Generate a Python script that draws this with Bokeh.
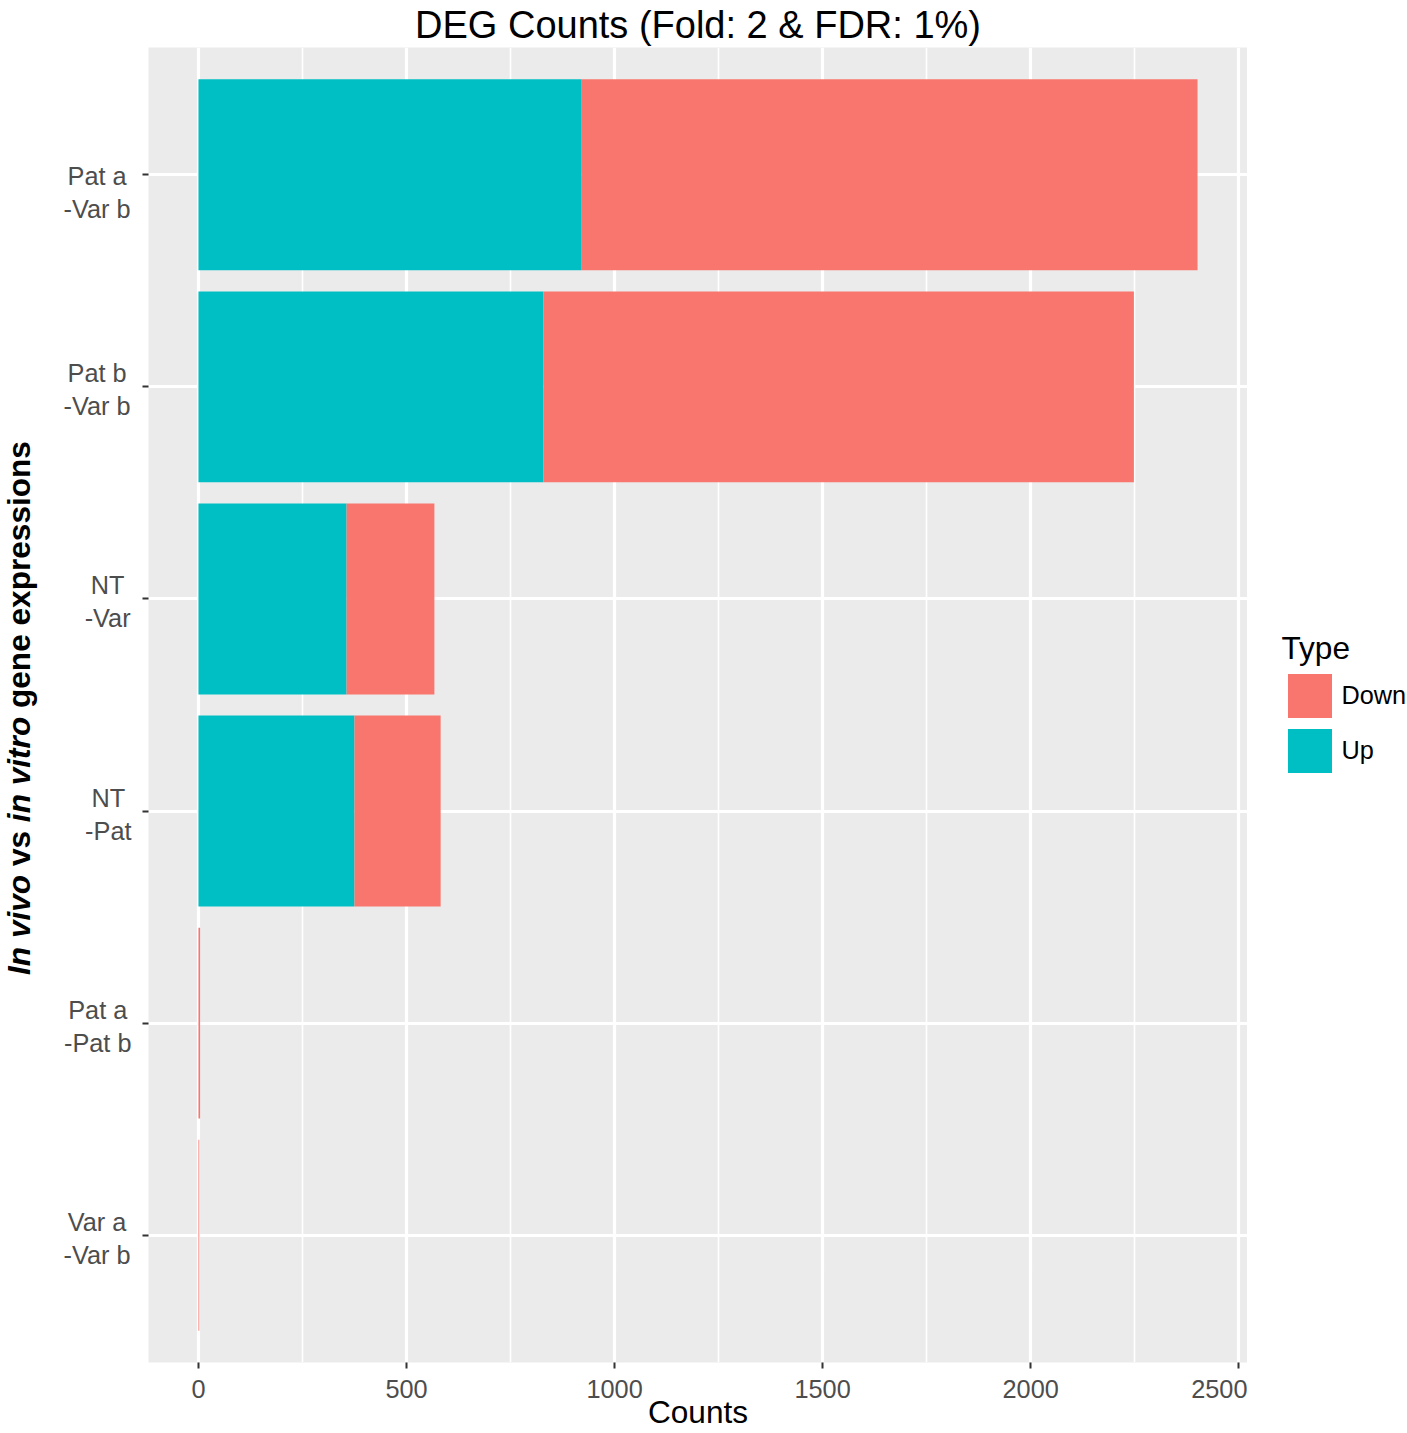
import math
from bokeh.plotting import figure
from bokeh.layouts import row
from bokeh.models import (ColumnDataSource, FactorRange, Range1d, FixedTicker,
                          Legend, LegendItem)
from bokeh.core.properties import value
from bokeh.embed import file_html
from bokeh.resources import INLINE

# ---------------- data ----------------
categories = ["Pat a -Var b", "Pat b -Var b", "NT -Var", "NT -Pat", "Pat a -Pat b", "Var a -Var b"]
label_line1 = ["Pat a", "Pat b", "NT", "NT", "Pat a", "Var a"]
label_line2 = ["-Var b", "-Var b", "-Var", "-Pat", "-Pat b", "-Var b"]
up_counts = [921, 829, 356, 375, 0, 0]
down_counts = [1480, 1419, 211, 207, 4, 2]
types = ["Down", "Up"]
x_ticks = [0, 500, 1000, 1500, 2000, 2500]
title_text = "DEG Counts (Fold: 2 & FDR: 1%)"
x_title = "Counts"
legend_title = "Type"
y_title_parts = [("In vivo", "bold italic"), ("vs", "bold"), ("in vitro", "bold italic"),
                 ("gene expressions", "bold")]

RED = "#F8766D"
CYAN = "#00BFC4"
type_colors = {"Down": RED, "Up": CYAN}
FONT = "Liberation Sans"

# ---------------- geometry ----------------
W, H = 1407, 1433
LW = 136                 # width of the left text strip
RW = 160                 # width of the legend strip
FRAME_LEFT = 148
FRAME_TOP = 47
MB = 71
FRAME_BOTTOM = H - MB
FRAME_H = FRAME_BOTTOM - FRAME_TOP
AXIS_TEXT = 25.3
AXIS_TITLE = 31.6
TITLE_SIZE = 38
Y_PAD = 0.1

REG_W = {'P': .667, 'a': .556, 't': .278, ' ': .278, '-': .333, 'V': .667, 'r': .333,
         'b': .556, 'N': .722, 'T': .611}
BOLD_W = {'I': .278, 'n': .611, ' ': .278, 'v': .556, 'i': .278, 'o': .611, 's': .556,
          't': .333, 'r': .389, 'g': .611, 'e': .556, 'x': .556, 'p': .611}


def text_w(s, table, size):
    return sum(table.get(c, .556) for c in s) * size


def strip(width):
    f = figure(width=width, height=H, x_range=Range1d(0, width),
               y_range=Range1d(FRAME_BOTTOM, FRAME_TOP),
               output_backend="svg", toolbar_location=None,
               x_axis_location=None, y_axis_location=None,
               min_border=0, min_border_left=0, min_border_right=0,
               min_border_top=FRAME_TOP, min_border_bottom=MB)
    f.grid.visible = False
    f.outline_line_color = None
    f.background_fill_color = "white"
    f.border_fill_color = "white"
    return f


# ---------------- main plot ----------------
totals = [u + d for u, d in zip(up_counts, down_counts)]
xmax = max(totals)
x_range = Range1d(-0.05 * xmax, 1.05 * xmax)
y_range = FactorRange(factors=categories[::-1], range_padding=Y_PAD, range_padding_units="absolute")

p = figure(width=W - LW - RW, height=H, x_range=x_range, y_range=y_range,
           output_backend="svg", toolbar_location=None,
           min_border_left=FRAME_LEFT - LW, min_border_right=0,
           min_border_top=FRAME_TOP, min_border_bottom=MB,
           title=title_text)

p.title.text_font = FONT
p.title.text_font_size = f"{TITLE_SIZE}px"
p.title.text_font_style = "normal"
p.title.text_color = "black"
p.title.align = "center"
p.title.standoff = 3

p.background_fill_color = "#EBEBEB"
p.border_fill_color = "white"
p.outline_line_color = None

src = ColumnDataSource(dict(cat=categories, Up=up_counts, Down=down_counts))
rs = p.hbar_stack(["Up", "Down"], y="cat", height=0.9,
                  fill_color=[type_colors["Up"], type_colors["Down"]],
                  line_color=None, source=src)

p.xaxis.ticker = FixedTicker(ticks=x_ticks, minor_ticks=[t + 250 for t in x_ticks[:-1]])
p.xgrid.grid_line_color = "white"
p.xgrid.grid_line_width = 3.2
p.xgrid.minor_grid_line_color = "white"
p.xgrid.minor_grid_line_width = 1.6
p.ygrid.grid_line_color = "white"
p.ygrid.grid_line_width = 3.2

for ax in (p.xaxis, p.yaxis):
    ax.axis_line_color = None
    ax.major_tick_line_color = "#333333"
    ax.major_tick_line_width = 2
    ax.major_tick_out = 6
    ax.major_tick_in = 0
    ax.minor_tick_out = 0
    ax.minor_tick_in = 0
    ax.major_label_text_font = FONT
    ax.major_label_text_font_size = f"{AXIS_TEXT}px"
    ax.major_label_text_color = "#4D4D4D"

p.xaxis.major_label_standoff = 11
p.xaxis.axis_label = x_title
p.xaxis.axis_label_text_font = FONT
p.xaxis.axis_label_text_font_size = f"{AXIS_TITLE}px"
p.xaxis.axis_label_text_font_style = "normal"
p.xaxis.axis_label_text_color = "black"
p.xaxis.axis_label_standoff = -7

# category tick labels are drawn in the left strip (centred two-line text)
p.yaxis.major_label_text_font_size = "0px"
p.yaxis.major_label_text_color = None
p.yaxis.major_label_standoff = 0

# ---------------- left strip: axis texts (page-pixel coordinates) ----------------
left = strip(LW)
n = len(categories)
step = FRAME_H / (n + 2 * Y_PAD)
lx, ly, lt = [], [], []
for i in range(n):
    yc = FRAME_TOP + (Y_PAD + 0.5 + i) * step
    maxw = max(text_w(label_line1[i], REG_W, AXIS_TEXT), text_w(label_line2[i], REG_W, AXIS_TEXT))
    cx = 131 - maxw / 2
    shift = 15 if i == 0 else 0
    lx += [cx, cx]
    ly += [yc - 13.5 + shift, yc + 19.5 + shift]
    lt += [label_line1[i], label_line2[i]]
left.text(x=lx, y=ly, text=lt, text_align="center", text_baseline="middle",
          text_font=value(FONT), text_font_size=f"{AXIS_TEXT}px", text_color="#4D4D4D")

space = BOLD_W[' '] * AXIS_TITLE
widths = [text_w(t, BOLD_W, AXIS_TITLE) for t, _ in y_title_parts]
total = sum(widths) + space * (len(widths) - 1)
cur = (FRAME_TOP + FRAME_BOTTOM) / 2 + 3 + total / 2
for (t, style), w in zip(y_title_parts, widths):
    left.text(x=[18], y=[cur], text=[t], angle=math.pi / 2, text_align="left",
              text_baseline="middle", text_font=value(FONT),
              text_font_size=f"{AXIS_TITLE}px", text_font_style=style, text_color="black")
    cur -= w + space

# ---------------- right strip: legend ----------------
right = strip(RW)
right.y_range = Range1d(0, 1)
key_renderers = {}
for t in types:
    # legend proxy: a zero-width bar lying outside the strip's visible range
    key_src = ColumnDataSource(dict(y=[-5.0], right=[0.0]))
    key_renderers[t] = right.hbar(y="y", right="right", height=0.9, source=key_src,
                                  fill_color=type_colors[t], line_color=None)
GLYPH = 55
legend = Legend(items=[LegendItem(label=t, renderers=[key_renderers[t]]) for t in types],
                location=(1281.5 - (W - RW), FRAME_BOTTOM - 777.5),
                title=legend_title, title_text_font=FONT, title_text_font_size=f"{AXIS_TITLE}px",
                title_text_font_style="normal", title_text_color="black", title_standoff=1,
                label_text_font=FONT, label_text_font_size=f"{AXIS_TEXT}px", label_text_color="black",
                glyph_width=GLYPH, glyph_height=GLYPH, spacing=0, label_standoff=5,
                padding=0, margin=0, border_line_color=None, background_fill_alpha=0)
right.add_layout(legend)

layout = row(left, p, right, spacing=0)
open("out.html", "w").write(file_html(layout, INLINE))
